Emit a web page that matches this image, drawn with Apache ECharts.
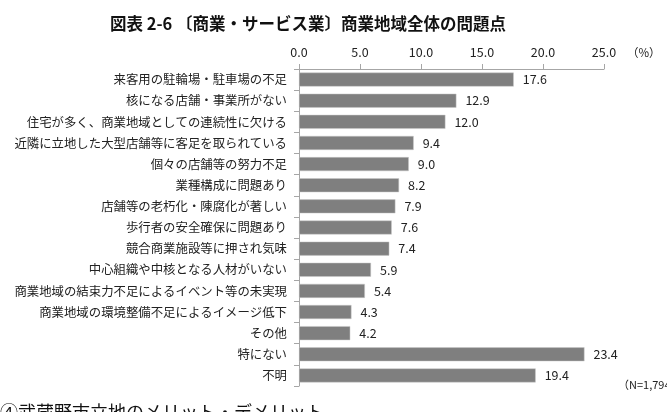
<!DOCTYPE html>
<html>
<head>
<meta charset="utf-8">
<script src="https://cdn.jsdelivr.net/npm/echarts@6/dist/echarts.min.js"></script>
<style>
  html, body { margin: 0; padding: 0; background: #fff; }
  #chart { width: 667px; height: 412px; }
</style>
</head>
<body>
<div id="chart"></div>
<script>
    var categories = [
        '来客用の駐輪場・駐車場の不足',
        '核になる店舗・事業所がない',
        '住宅が多く、商業地域としての連続性に欠ける',
        '近隣に立地した大型店舗等に客足を取られている',
        '個々の店舗等の努力不足',
        '業種構成に問題あり',
        '店舗等の老朽化・陳腐化が著しい',
        '歩行者の安全確保に問題あり',
        '競合商業施設等に押され気味',
        '中心組織や中核となる人材がいない',
        '商業地域の結束力不足によるイベント等の未実現',
        '商業地域の環境整備不足によるイメージ低下',
        'その他',
        '特にない',
        '不明'
    ];
    var values = [17.6, 12.9, 12.0, 9.4, 9.0, 8.2, 7.9, 7.6, 7.4, 5.9, 5.4, 4.3, 4.2, 23.4, 19.4];

    var titleText = '図表 2-6 〔商業・サービス業〕商業地域全体の問題点';
    var noteText = '（N=1,794）';
    var nextHeading = '④武蔵野市立地のメリット・デメリット';

    var font = '"Noto Sans CJK JP", sans-serif';

    var dom = document.getElementById('chart');
    var chart = echarts.init(dom, null, { renderer: 'canvas' });

    chart.setOption({
        animation: false,
        title: {
            text: titleText,
            left: 303,
            top: 10,
            textAlign: 'center',
            textStyle: {
                fontFamily: font,
                fontSize: 16.5,
                fontWeight: 'bold',
                color: '#111'
            }
        },
        grid: {
            left: 299,
            right: 63,
            top: 69,
            bottom: 26
        },
        xAxis: {
            type: 'value',
            position: 'top',
            min: 0,
            max: 25,
            interval: 5,
            axisLine: { show: true, lineStyle: { color: '#a6a6a6' } },
            axisTick: { show: true, length: 5, lineStyle: { color: '#a6a6a6' } },
            splitLine: { show: false },
            axisLabel: {
                margin: 10,
                fontFamily: font,
                fontSize: 12.5,
                color: '#222',
                formatter: function (v) { return v.toFixed(1); }
            }
        },
        yAxis: {
            type: 'category',
            inverse: true,
            data: categories,
            axisLine: { show: true, lineStyle: { color: '#a6a6a6' } },
            axisTick: { show: true, length: 5, lineStyle: { color: '#a6a6a6' } },
            axisLabel: {
                margin: 12,
                fontFamily: font,
                fontSize: 12.4,
                color: '#222'
            }
        },
        series: [
            {
                type: 'bar',
                data: values,
                barWidth: 14,
                itemStyle: {
                    color: '#7f7f7f',
                    borderColor: '#c8c8c8',
                    borderWidth: 0.5
                },
                label: {
                    show: true,
                    position: 'right',
                    distance: 9,
                    fontFamily: font,
                    fontSize: 12.5,
                    color: '#222',
                    formatter: function (p) { return p.value.toFixed(1); }
                }
            }
        ],
        graphic: [
            {
                type: 'text',
                left: 627,
                top: 47,
                style: { text: '（%）', font: '11.5px ' + font, fill: '#222' }
            },
            {
                type: 'text',
                left: 618,
                top: 379,
                style: { text: noteText, font: '11px ' + font, fill: '#222' }
            },
            {
                type: 'text',
                left: 0,
                top: 403,
                style: { text: nextHeading, font: '18px ' + font, fill: '#111' }
            }
        ]
    });

    window.addEventListener('resize', chart.resize);
</script>
</body>
</html>
